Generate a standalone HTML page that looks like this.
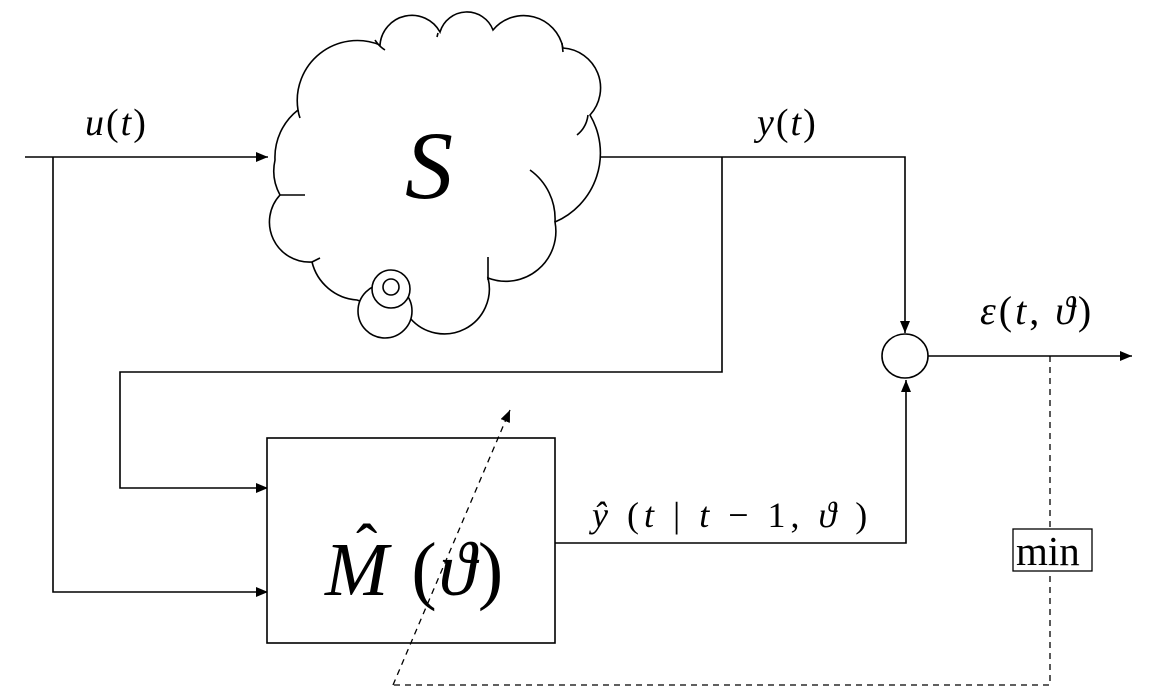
<!DOCTYPE html>
<html><head><meta charset="utf-8"><style>
html,body{margin:0;padding:0;background:#fff;}
svg{display:block;}
text{font-family:"Liberation Serif","DejaVu Serif",serif;fill:#000;}
.i{font-style:italic;}
</style></head><body>
<svg width="1155" height="697" viewBox="0 0 1155 697" xmlns="http://www.w3.org/2000/svg">
<defs>
<marker id="a" markerWidth="12" markerHeight="10" refX="12" refY="5" orient="auto" markerUnits="userSpaceOnUse">
<path d="M0,0 L12,5 L0,10 z" fill="#000"/></marker>
</defs>
<g fill="none" stroke="#000" stroke-width="1.6">
<path fill="#fff" d="M275,160 A60,60 0 0 1 298,110 A60,60 0 0 1 380,45 A32,32 0 0 1 440,32 A28,28 0 0 1 493,30 A40,40 0 0 1 563,48 A40,40 0 0 1 590,115 A75,75 0 0 1 555,222 A50,50 0 0 1 488,278 A45,45 0 0 1 410,318 L357,300 A50,50 0 0 1 312,262 A40,40 0 0 1 280,195 A50,50 0 0 1 275,160 Z"/>
<path d="M298,110 A40,40 0 0 0 300,118 M375,40 A30,30 0 0 0 385,50 M437,37 L438,33 M562,43 L563,52 M588,115 A30,30 0 0 1 577,135 M530,170 A60,60 0 0 1 555,222 M488,257 L488,280 M312,262 L320,258 M280,195 L305,195"/>
<circle cx="385" cy="311" r="27" fill="#fff"/>
<circle cx="391" cy="289" r="19" fill="#fff"/>
<circle cx="391" cy="287" r="8"/>
<path d="M25,157 H268" marker-end="url(#a)"/>
<path d="M53,157 V592 H268" marker-end="url(#a)"/>
<path d="M600,157 H905 V333" marker-end="url(#a)"/>
<path d="M722,157 V372 H120 V488 H268" marker-end="url(#a)"/>
<rect x="267" y="438" width="288" height="205" fill="#fff"/>
<path d="M555,543 H906 V380" marker-end="url(#a)"/>
<ellipse cx="905" cy="356" rx="23" ry="22" fill="#fff"/>
<path d="M928,356 H1132" marker-end="url(#a)"/>
<path d="M1050,356 V685 H393" stroke-dasharray="6,5" stroke-width="1.3"/>
<path d="M393,685 L510,410" stroke-dasharray="6,5" stroke-width="1.3" marker-end="url(#a)"/>
<rect x="1013" y="529" width="79" height="42" fill="#fff" stroke-width="1.3"/>
</g>
<text x="85" y="135" font-size="38" letter-spacing="2"><tspan class="i">u</tspan>(<tspan class="i">t</tspan>)</text>
<text x="757" y="135" font-size="38" letter-spacing="2"><tspan class="i">y</tspan>(<tspan class="i">t</tspan>)</text>
<text x="405" y="198" font-size="96" class="i">S</text>
<text x="980" y="324" font-size="40" letter-spacing="3"><tspan class="i">ε</tspan>(<tspan class="i">t</tspan>, <tspan class="i">ϑ</tspan>)</text>
<text x="592" y="527" font-size="36" letter-spacing="5"><tspan class="i">ŷ</tspan> (<tspan class="i">t</tspan> | <tspan class="i">t</tspan> − 1, <tspan class="i">ϑ</tspan> )</text>
<text x="325" y="595" font-size="76" letter-spacing="2"><tspan class="i">M</tspan> (<tspan class="i">ϑ</tspan>)</text>
<text x="356" y="568" font-size="64">ˆ</text>
<text x="1016" y="565" font-size="41">min</text>
</svg>
</body></html>
